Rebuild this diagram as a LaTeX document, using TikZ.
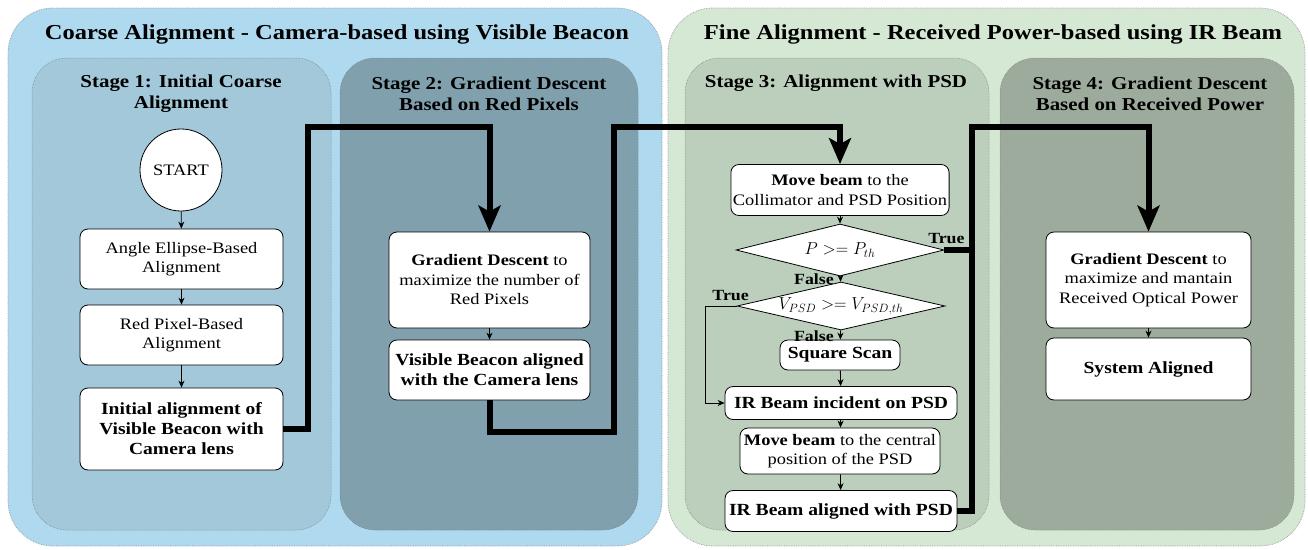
\documentclass[tikz,border=0pt]{standalone}
\usepackage{fontspec}
\setmainfont[FakeStretch=1.15]{Liberation Serif}
\usetikzlibrary{shapes.geometric,arrows.meta,calc}
\definecolor{outerL}{HTML}{AED9EE}
\definecolor{stageA}{HTML}{A2C8D9}
\definecolor{stageB}{HTML}{80A0AD}
\definecolor{outerR}{HTML}{D5E8D4}
\definecolor{stageC}{HTML}{BCCFBC}
\definecolor{stageD}{HTML}{9DAB9C}
\begin{document}
\begin{tikzpicture}[x=1pt,y=-1pt,
  outerbox/.style={draw=gray!80, line width=0.7pt, densely dotted, rounded corners=45pt},
  stagebox/.style={draw=gray!90!black, line width=0.5pt, densely dotted, rounded corners=35pt},
  title/.style={font=\fontsize{21.3}{26}\selectfont\bfseries, align=center},
  stitle/.style={font=\fontsize{18.2}{21}\selectfont\bfseries, align=center},
  box/.style={draw=black, fill=white, rounded corners=8pt, align=center, line width=0.8pt,
    font=\fontsize{16}{19.5}\selectfont, inner sep=2pt},
  bbox/.style={box, font=\fontsize{17}{20}\selectfont\bfseries},
  dia/.style={diamond, draw=black, fill=white, line width=0.8pt, inner sep=0pt},
  arr/.style={draw=black, line width=0.8pt, -{Stealth[length=7pt,width=6pt]}},
  bigline/.style={draw=black, line width=6pt, line cap=butt, line join=miter},
  bigarr/.style={bigline, -{Stealth[length=26pt,width=22pt,inset=6pt]}},
  lab/.style={font=\fontsize{15.5}{18}\selectfont\bfseries}
]
\useasboundingbox (0,0) rectangle (1308,549);
% outer containers
\draw[outerbox, fill=outerL] (8,8) rectangle (662,546);
\draw[outerbox, fill=outerR] (668,8) rectangle (1305,546);
\node[title] (tL) at (337,34) {Coarse Alignment - Camera-based using Visible Beacon};
\node[title] (tR) at (993,34) {Fine Alignment - Received Power-based using IR Beam};
% stages
\draw[stagebox, fill=stageA] (32,58) rectangle (331,530);
\draw[stagebox, fill=stageB] (340,58) rectangle (638,530);
\draw[stagebox, fill=stageC] (685,58) rectangle (989,530);
\draw[stagebox, fill=stageD] (1000,58) rectangle (1294,530);
\node[stitle] (s1) at (181,94) {Stage 1: Initial Coarse\\Alignment};
\node[stitle] (s2) at (489,94) {Stage 2: Gradient Descent\\Based on Red Pixels};
\node[stitle] (s3) at (836,83) {Stage 3: Alignment with PSD};
\node[stitle] (s4) at (1150,94) {Stage 4: Gradient Descent\\Based on Received Power};
% stage 1
\node[circle, draw=black, fill=white, line width=0.8pt, minimum size=82pt, inner sep=0pt,
  font=\fontsize{16}{19}\selectfont] (start) at (181,170) {START};
\node[box, minimum width=203pt, minimum height=60pt] (b1) at (181.5,259) {Angle Ellipse-Based\\Alignment};
\node[box, minimum width=203pt, minimum height=60pt] (b2) at (181.5,335) {Red Pixel-Based\\Alignment};
\node[bbox, minimum width=203pt, minimum height=82pt] (b3) at (181.5,429) {Initial alignment of\\Visible Beacon with\\Camera lens};
\draw[arr] (start) -- (b1);
\draw[arr] (b1) -- (b2);
\draw[arr] (b2) -- (b3);
% stage 2
\node[box, minimum width=201pt, minimum height=96pt] (gd) at (489.5,280) {\textbf{Gradient Descent} to\\maximize the number of\\Red Pixels};
\node[bbox, minimum width=201pt, minimum height=60pt] (vb) at (489.5,370) {Visible Beacon aligned\\with the Camera lens};
\draw[arr] (gd) -- (vb);
% stage 3
\node[box, minimum width=214pt, minimum height=51pt] (mb) at (840,190) {\textbf{Move beam} to the\\Collimator and PSD Position};
\node[dia, minimum width=208pt, minimum height=52pt, label={center:\fontsize{16.5}{19}\selectfont$P >= P_{th}$}] (d1) at (840,250) {};
\node[dia, minimum width=208pt, minimum height=48pt, label={center:\fontsize{16.5}{19}\selectfont$V_{PSD} >= V_{PSD,th}$}] (d2) at (841,306) {};
\node[bbox, minimum width=120pt, minimum height=30pt] (sq) at (840,355) {Square Scan};
\node[bbox, minimum width=232pt, minimum height=33pt] (ib) at (841,403) {IR Beam incident on PSD};
\node[box, minimum width=200pt, minimum height=46pt] (mc) at (840,451) {\textbf{Move beam} to the central\\position of the PSD};
\node[bbox, minimum width=232pt, minimum height=41pt] (ia) at (841,511) {IR Beam aligned with PSD};
\draw[arr] (mb) -- (d1);
\draw[arr] (d1) -- node[lab, left=3pt] {False} (d2);
\draw[arr] (d2) -- node[lab, left=3pt, yshift=-1pt] {False} (sq);
\draw[arr] (sq) -- (ib);
\draw[arr] (ib) -- (mc);
\draw[arr] (mc) -- (ia);
\coordinate (k5) at (705,0);
\draw[arr] (d2.west) -- (d2.west -| k5) |- (ib.west);
\node[lab, anchor=south] at ($(d2.west)+(-6,-2)$) {True};
% stage 4
\node[box, minimum width=205pt, minimum height=96pt] (gd4) at (1148.5,280) {\textbf{Gradient Descent} to\\maximize and mantain\\Received Optical Power};
\node[bbox, minimum width=205pt, minimum height=62pt] (sa) at (1148.5,369) {System Aligned};
\draw[arr] (gd4) -- (sa);
% thick flow lines
\coordinate (k1) at (308,127);
\coordinate (k2) at (614,127);
\coordinate (k3) at (614,432);
\coordinate (k4) at (972,127);
\draw[bigarr] (b3.east) -| (k1) -| (gd.north);
\draw[bigarr] (vb.south) |- (k3) -- (k2) -| (mb.north);
\draw[bigarr] (ia.east) -| (k4) -| (gd4.north);
\draw[bigline] (d1.east) -- (d1.east -| k4);
\node[lab, anchor=south] at ($(d1.east)+(2,-3)$) {True};
\end{tikzpicture}
\end{document}
